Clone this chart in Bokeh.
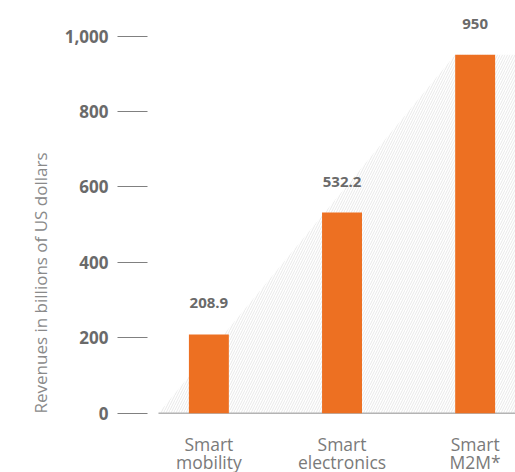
from bokeh.plotting import figure
from bokeh.models import ColumnDataSource, FixedTicker, Range1d, NumeralTickFormatter, Title
from bokeh.core.properties import value
from bokeh.embed import file_html
from bokeh.resources import INLINE

categories = ["Smart\nmobility", "Smart\nelectronics", "Smart\nM2M*"]
revenues = [208.9, 532.2, 950]
value_labels = ["208.9", "532.2", "950"]
y_ticks = [0, 200, 400, 600, 800, 1000]
y_title = "Revenues in billions of US dollars"

xs = list(range(len(categories)))
BAR_W = 0.3
X_START, X_END = -0.461, 2.303
BASE_START = -0.3785

line1 = [c.split("\n")[0] for c in categories]
line2 = [c.split("\n")[1] for c in categories]

src = ColumnDataSource(dict(x=xs, top=revenues, label=value_labels,
                            l1=line1, l2=line2, zero=[0] * len(xs)))

p = figure(width=515, height=472, output_backend="svg", toolbar_location=None,
           x_range=Range1d(X_START, X_END), y_range=Range1d(-156.9, 1094.1),
           min_border_left=147, min_border_right=0, min_border_top=0, min_border_bottom=0,
           x_axis_location=None, y_axis_location="left")
p.outline_line_color = None
p.grid.visible = False
p.border_fill_color = "white"
p.background_fill_color = "white"

# hatched background wedge, derived from the data
last = len(revenues) - 1
hx = [BASE_START, X_END, X_END, xs[last] - BAR_W / 2]
hy = [0, 0, max(revenues), max(revenues)]
p.patch(hx, hy, fill_color=None, line_color=None,
        hatch_pattern="/", hatch_color="#e9e9e9", hatch_scale=5, hatch_weight=1)

# baseline
p.segment(x0=[BASE_START], y0=[0], x1=[X_END], y1=[0], line_color="#b4b4b4", line_width=1.5)

p.vbar(x="x", top="top", bottom=0, width=BAR_W, source=src,
       fill_color="#ED7022", line_color=None)

# value labels
p.text(x="x", y="top", text="label", source=src, y_offset=-31,
       text_align="center", text_baseline="middle",
       text_font=value("Open Sans"), text_font_style="bold",
       text_font_size="15px", text_color="#6a6a6a")

# category labels (two lines)
cat_style = dict(text_align="center", text_baseline="alphabetic",
                 text_font=value("Open Sans"), text_font_size="17.5px", text_color="#7a7a7a")
p.text(x="x", y="zero", text="l1", source=src, y_offset=31, **cat_style)
p.text(x="x", y="zero", text="l2", source=src, y_offset=49, **cat_style)

# y axis
ya = p.yaxis[0]
ya.ticker = FixedTicker(ticks=y_ticks)
ya.formatter = NumeralTickFormatter(format="0,0")
ya.axis_line_color = None
ya.major_tick_out = 30
ya.major_tick_in = 0
ya.major_tick_line_color = "#808080"
ya.major_tick_line_width = 1.2
ya.minor_tick_line_color = None
ya.major_label_standoff = 9
ya.major_label_text_font = "Open Sans"
ya.major_label_text_font_style = "bold"
ya.major_label_text_font_size = "17px"
ya.major_label_text_color = "#6a6a6a"

# y axis title, starting near the baseline as in the original
p.add_layout(Title(text=y_title, align="left", offset=59, standoff=20,
                   text_font="Open Sans", text_font_style="normal",
                   text_font_size="17px", text_color="#8a8a8a"), "left")

open("out.html", "w").write(file_html(p, INLINE))
